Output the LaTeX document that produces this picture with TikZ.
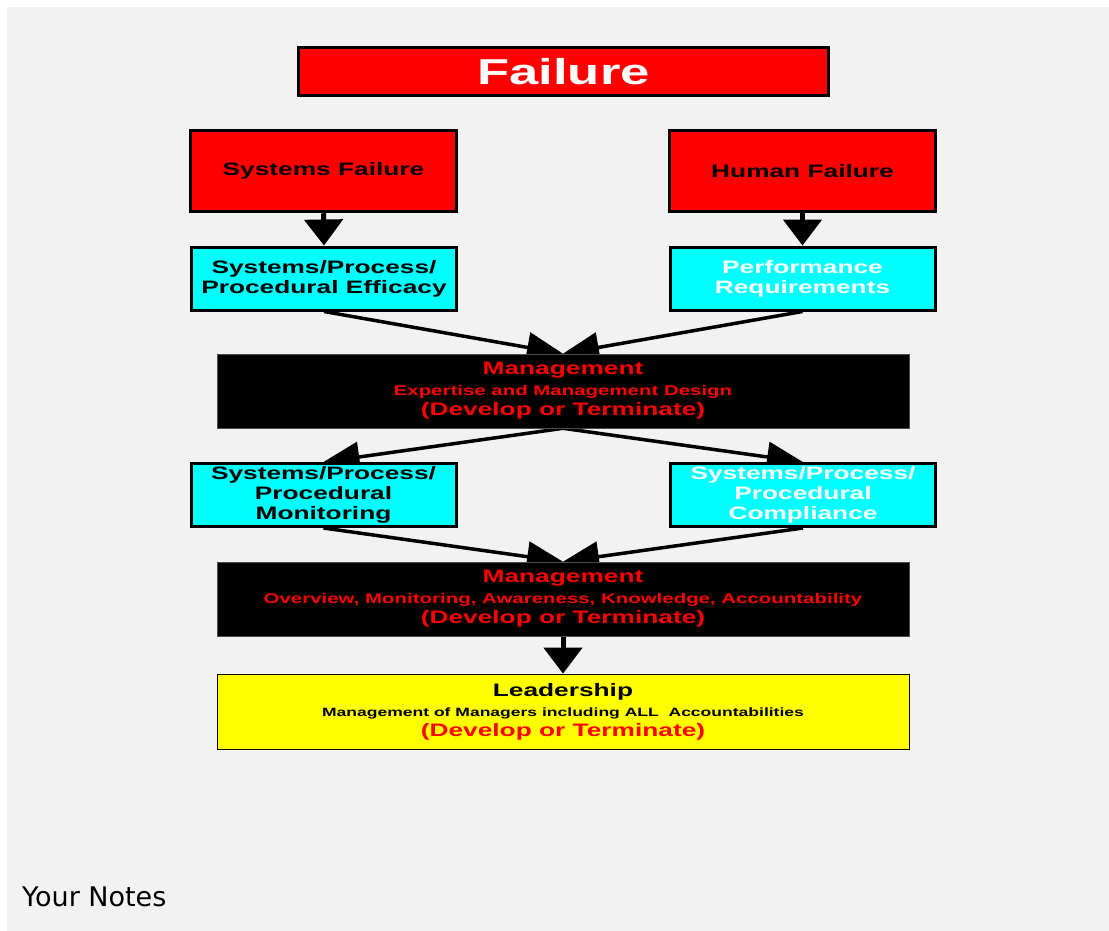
\documentclass[tikz,border=0pt]{standalone}
\usepackage{fontspec}
\usetikzlibrary{arrows.meta}
\newfontfamily\bx{Liberation Sans}[FakeStretch=1.46]
\newfontfamily\notefont{DejaVu Sans}
\definecolor{panel}{HTML}{F2F2F2}
\definecolor{boxred}{HTML}{FF0000}
\definecolor{boxcyan}{HTML}{00FFFF}
\definecolor{boxyellow}{HTML}{FFFF00}
\pgfdeclarelayer{bg}
\pgfdeclarelayer{links}
\pgfsetlayers{bg,links,main}
\tikzset{
  redbox/.style={fill=boxred, draw=black, line width=3.5pt, inner sep=0pt,
    font=\bx\bfseries\fontsize{18}{20}\selectfont, text=black},
  cyanbox/.style={fill=boxcyan, draw=black, line width=3pt, inner sep=0pt,
    minimum width=265pt, minimum height=63pt, align=center,
    font=\bx\bfseries\fontsize{18}{20}\selectfont},
  mgmtbox/.style={fill=black, draw=black!70, line width=0.6pt, inner sep=0pt,
    minimum width=692pt, minimum height=74pt, align=center, text=boxred,
    font=\bx\bfseries\fontsize{18}{20.5}\selectfont},
  leadbox/.style={fill=boxyellow, draw=black, line width=0.8pt, inner sep=0pt,
    minimum width=692pt, minimum height=75pt, align=center, text=black,
    font=\bx\bfseries\fontsize{18}{20}\selectfont},
  downarrow/.style={line width=5pt, -{Triangle[length=26pt,width=38pt]}},
  slantarrow/.style={line width=3.5pt, -{Triangle[length=36pt,width=30pt]}},
}
\begin{document}
\begin{tikzpicture}[x=1pt,y=-1pt]
\useasboundingbox (0,0) rectangle (1109,931);

% page and panel
\begin{pgfonlayer}{bg}
  \fill[white] (0,0) rectangle (1109,931);
  \fill[panel] (7,7) rectangle (1109,931);
\end{pgfonlayer}

% title
\node[redbox, minimum width=530pt, minimum height=48pt,
      font=\bx\bfseries\fontsize{36}{40}\selectfont, text=white]
  (fail) at (563.5,71.5) {Failure};

% failure categories
\node[redbox, minimum width=266pt, minimum height=81pt] (sysf) at (323.5,171) {Systems Failure};
\node[redbox, minimum width=266pt, minimum height=81pt] (humf) at (802.5,171) {Human Failure};

% first row of cyan boxes
\node[cyanbox] (eff) at (324,278.5) {Systems/Process/\\Procedural Efficacy};
\node[cyanbox, text=white] (perf) at (802.5,278.5) {Performance\\Requirements};

% first management box
\node[mgmtbox] (mg1) at (563,391)
  {Management\\
   {\fontsize{14}{20.5}\selectfont Expertise and Management Design}\\
   (Develop or Terminate)};

% second row of cyan boxes
\node[cyanbox] (mon) at (323.5,495) {Systems/Process/\\Procedural\\Monitoring};
\node[cyanbox, text=white] (comp) at (803,495) {Systems/Process/\\Procedural\\Compliance};

% second management box
\node[mgmtbox] (mg2) at (563,599)
  {Management\\
   {\fontsize{14}{20.5}\selectfont Overview, Monitoring, Awareness, Knowledge, Accountability}\\
   (Develop or Terminate)};

% leadership
\node[leadbox] (lead) at (563,711.5)
  {Leadership\\
   {\fontsize{12}{20}\selectfont Management of Managers including ALL\ \ Accountabilities}\\
   {\color{boxred}(Develop or Terminate)}};

% notes caption
\node[anchor=base west, inner sep=0pt, font=\notefont\fontsize{27}{30}\selectfont]
  (notes) at (22,906) {Your Notes};

% connectors
\begin{pgfonlayer}{links}
  \draw[downarrow] (sysf.south) -- (eff.north);
  \draw[downarrow] (humf.south) -- (perf.north);
  \draw[slantarrow] (eff.south) -- (mg1.north);
  \draw[slantarrow] (perf.south) -- (mg1.north);
  \draw[slantarrow] (mg1.south) -- (mon.north);
  \draw[slantarrow] (mg1.south) -- (comp.north);
  \draw[slantarrow] (mon.south) -- (mg2.north);
  \draw[slantarrow] (comp.south) -- (mg2.north);
  \draw[downarrow] (mg2.south) -- (lead.north);
\end{pgfonlayer}
\end{tikzpicture}
\end{document}
